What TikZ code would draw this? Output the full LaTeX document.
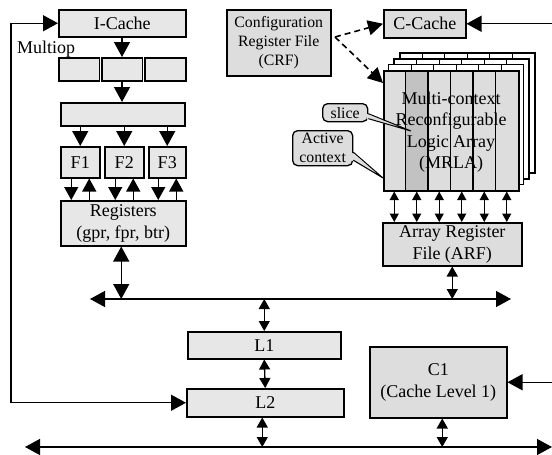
\documentclass[tikz,border=0pt]{standalone}
\usepackage{fontspec}
\setmainfont{Liberation Serif}
\usetikzlibrary{arrows.meta,calc}
\definecolor{boxlight}{gray}{0.905}
\definecolor{boxmid}{gray}{0.865}
\definecolor{slicegray}{gray}{0.76}
\newcommand{\mainfs}{\fontsize{18}{21.5}\selectfont}
\newcommand{\smallfs}{\fontsize{15.8}{19}\selectfont}
\begin{document}
\begin{tikzpicture}[x=1pt,y=-1pt,
  box/.style={draw, line width=1.5pt, fill=boxlight, inner sep=0pt,
    anchor=north west, align=center, font=\mainfs},
  midbox/.style={box, fill=boxmid},
  callbox/.style={draw, line width=1.3pt, fill=boxmid, rounded corners=5pt,
    inner sep=0pt, anchor=north west, align=center, font=\smallfs},
  big/.style={line width=1.3pt, -{Triangle[length=15pt,width=16pt]}},
  bigboth/.style={line width=1.3pt, {Triangle[length=15pt,width=16pt]}-{Triangle[length=15pt,width=16pt]}},
  medup/.style={line width=1.3pt, -{Triangle[length=13pt,width=14pt]}},
  smallboth/.style={line width=1.3pt, {Triangle[length=10pt,width=11pt]}-{Triangle[length=10pt,width=11pt]}},
  tinyboth/.style={line width=1.3pt, {Triangle[length=8.5pt,width=9pt]}-{Triangle[length=8.5pt,width=9pt]}},
  dashedarr/.style={line width=1.6pt, dash pattern=on 6pt off 4pt, -{Triangle[length=15pt,width=15pt]}},
]
\useasboundingbox (0,0) rectangle (552,455);

% ---------- instruction side ----------
\node[box, minimum width=127, minimum height=27] (icache) at (58,9) {I-Cache};
\node[font=\mainfs, anchor=west, inner sep=0pt] (multiop) at (17,49) {Multiop};
\node[box, minimum width=40.5, minimum height=23] (m1) at (58,57) {};
\node[box, minimum width=40.5, minimum height=23] (m2) at (101,57) {};
\node[box, minimum width=41, minimum height=23] (m3) at (144,57) {};
\node[box, minimum width=124, minimum height=23] (dec) at (60,102) {};
\node[box, minimum width=39, minimum height=31] (f1) at (60,146) {F1};
\node[box, minimum width=39, minimum height=31] (f2) at (104,146) {F2};
\node[box, minimum width=37, minimum height=31] (f3) at (148,146) {F3};
\node[box, minimum width=125, minimum height=45] (reg) at (60,200) {Registers\\(gpr, fpr, btr)};

\draw[big] (icache.south -| m2.north) -- (m2.north);
\draw[big] (m2.south) -- (m2.south |- dec.north);
\foreach \f in {f1,f2,f3}{
  \draw[big] (\f.north |- dec.south) -- (\f.north);
  \draw[medup] ($(\f.south)+(-9,0)$) -- ($(\f.south |- reg.north)+(-9,0)$);
  \draw[medup] ($(\f.south |- reg.north)+(9,0)$) -- ($(\f.south)+(9,0)$);
}

% ---------- memory hierarchy ----------
\coordinate (busL) at (90,299);
\coordinate (busR) at (511,299);
\coordinate (lowL) at (25,447);
\coordinate (lowR) at (552,447);
\coordinate (edge) at (552,0);
\coordinate (fb) at (11,200);

\node[box, minimum width=153, minimum height=27] (l1) at (187,331) {L1};
\node[box, minimum width=157, minimum height=28] (l2) at (186,388) {L2};
\node[midbox, minimum width=137, minimum height=71] (c1) at (369,346) {C1\\(Cache Level 1)};

\draw[bigboth] (busL) -- (busR);
\draw[bigboth] (lowL) -- (lowR);
\draw[bigboth] ($(reg.south)+(-2,0)$) -- ($(reg.south |- busL)+(-2,0)$);
\draw[smallboth] (l1.north |- busL) -- (l1.north);
\draw[smallboth] (l1.south) -- (l2.north);
\draw[smallboth] ($(l2.south)+(-3,0)$) -- ($(l2.south |- lowL)+(-3,0)$);
\draw[smallboth] ($(c1.south)+(4,0)$) -- ($(c1.south |- lowL)+(4,0)$);
\draw[bigboth] (icache.west) -| (fb) |- (l2.west);
\draw[big] (c1.east -| edge) -- (c1.east);

% ---------- reconfigurable side ----------
\node[midbox, font=\smallfs, minimum width=104, minimum height=66] (crf) at (226,9)
  {Configuration\\Register File\\(CRF)};
\node[midbox, minimum width=82, minimum height=28] (ccache) at (383,9) {C-Cache};
\draw[big] (ccache.east -| edge) -- (ccache.east);

% stacked contexts, back to front
\foreach \k in {3,2,1}{
  \begin{scope}[shift={(5.6*\k,-5.6*\k)}]
    \filldraw[fill=white, line width=1.5pt] (383,70) rectangle (518,190);
    \foreach \c in {1,...,5}
      \draw[line width=1.2pt] (383+22.5*\c,70) -- (383+22.5*\c,190);
  \end{scope}
}
% front (active) context with its six slices
\foreach \c in {0,...,5}
  \fill[boxmid] (383+22.5*\c,70) rectangle (405.5+22.5*\c,190);
\fill[slicegray] (405.5,70) rectangle (428,190);
\foreach \c in {1,...,5}
  \draw[line width=1.2pt] (383+22.5*\c,70) -- (383+22.5*\c,190);
\node[draw, line width=1.5pt, anchor=north west, inner sep=0pt,
  minimum width=135, minimum height=120] (mrla) at (383,70) {};
\node[font=\mainfs, align=center, inner sep=0pt] (mrlatext) at (451,132)
  {\fontsize{18}{23}\selectfont Multi-context\\Reconfigurable\\Logic Array\\(MRLA)};

\node[midbox, minimum width=139, minimum height=43] (arf) at (382,222) {Array Register\\File (ARF)};
\foreach \c in {0,...,5}{
  \coordinate (s\c) at ($(mrla.south west)+(11.25+22.5*\c,0)$);
  \draw[tinyboth] (s\c) -- (s\c |- arf.north);
}
\draw[smallboth] (arf.south) -- (arf.south |- busL);

% configuration paths
\coordinate (cfg) at (335,37);
\coordinate (ctx) at ($(mrla.north west)+(0,13)$);
\draw[dashedarr] (cfg) -- (ccache.west);
\draw[dashedarr] (cfg) -- (ctx);

% call-outs
\node[callbox, minimum width=45, minimum height=18] (slice) at (322,103) {slice};
\coordinate (slicetip) at (411,131);
\fill[boxmid] ($(slice.east)+(-2,1)$) -- (slicetip) -- ($(slice.east)+(-2,6)$) -- cycle;
\draw[line width=1pt] ($(slice.east)+(0,1)$) -- (slicetip) -- ($(slice.east)+(0,6)$);

\node[callbox, minimum width=60, minimum height=35] (active) at (292,130) {Active\\context};
\coordinate (activetip) at (383,178);
\fill[boxmid] ($(active.east)+(-2,4)$) -- (activetip) -- ($(active.east)+(-2,12)$) -- cycle;
\draw[line width=1pt] ($(active.east)+(0,4)$) -- (activetip) -- ($(active.east)+(0,12)$);
\end{tikzpicture}
\end{document}
